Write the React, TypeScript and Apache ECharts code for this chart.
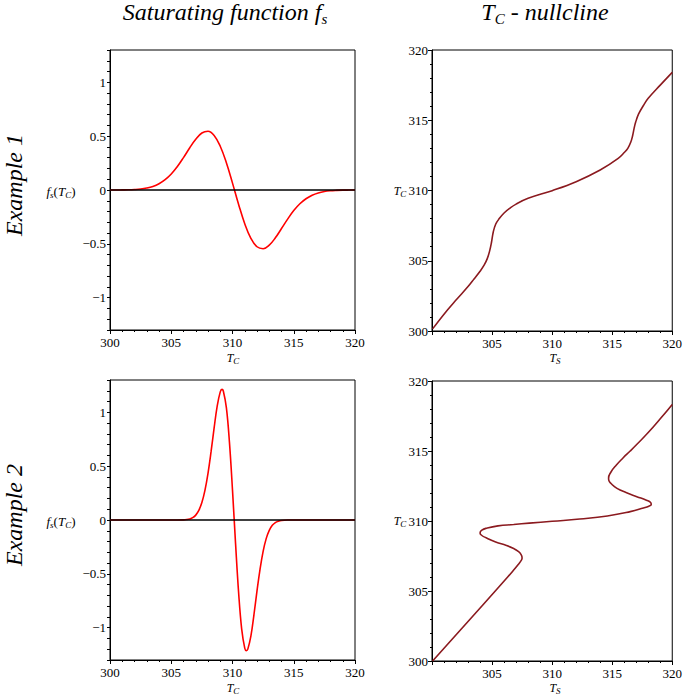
import React, { useEffect, useRef } from "react";
import * as echarts from "echarts";

// ---------- data ----------
// Example 1: saturating function f_s(T_C)
const fs1Tc = [300, 300.5, 301, 301.5, 302, 302.5, 303, 303.5, 304, 304.5, 305, 305.5, 306, 306.5, 307, 307.5, 308, 308.5, 309, 309.5, 310, 310.5, 311, 311.5, 312, 312.5, 313, 313.5, 314, 314.5, 315, 315.5, 316, 316.5, 317, 317.5, 318, 318.5, 319, 319.5, 320];
const fs1Val = [0, 0, 0.001, 0.002, 0.0045, 0.009, 0.018, 0.033, 0.058, 0.096, 0.149, 0.218, 0.301, 0.39, 0.471, 0.529, 0.545, 0.506, 0.406, 0.253, 0.064, -0.134, -0.313, -0.449, -0.527, -0.545, -0.512, -0.444, -0.358, -0.27, -0.191, -0.128, -0.081, -0.048, -0.027, -0.014, -0.007, -0.0035, -0.0015, -0.0006, 0];

// Example 2: saturating function f_s(T_C)
const fs2Tc = [300, 302, 304, 305, 306, 306.25, 306.5, 306.75, 307, 307.25, 307.5, 307.75, 308, 308.25, 308.5, 308.75, 309, 309.14, 309.25, 309.5, 309.75, 310, 310.25, 310.5, 310.75, 311, 311.13, 311.25, 311.5, 311.75, 312, 312.25, 312.5, 312.75, 313, 313.25, 313.5, 313.75, 314, 314.5, 315, 316, 318, 320];
const fs2Val = [0, 0, 0, 0, 0.0016, 0.004, 0.0097, 0.0216, 0.0454, 0.0888, 0.162, 0.275, 0.434, 0.634, 0.855, 1.058, 1.19, 1.213, 1.198, 1.043, 0.723, 0.277, -0.219, -0.675, -1.013, -1.189, -1.213, -1.199, -1.079, -0.88, -0.658, -0.456, -0.291, -0.173, -0.096, -0.049, -0.024, -0.011, -0.0045, -0.0006, 0, 0, 0, 0];

// Example 1: T_C nullcline (T_S, T_C)
const nc1Ts = [300.05, 301, 302, 303, 303.5, 304.0, 304.35, 304.6, 304.8, 304.95, 305.1, 305.3, 305.6, 306, 306.5, 307, 308, 310, 312, 314, 315.5, 316.0, 316.3, 316.55, 316.7, 316.82, 316.95, 317.2, 317.6, 318, 319, 320];
const nc1Tc = [300.15, 301.2, 302.2, 303.16, 303.7, 304.25, 304.7, 305.15, 305.7, 306.3, 307.05, 307.6, 308.0, 308.4, 308.75, 309.03, 309.44, 309.99, 310.63, 311.46, 312.29, 312.7, 313.0, 313.45, 313.9, 314.4, 314.85, 315.45, 316.05, 316.56, 317.5, 318.41];

// Example 2: T_C nullcline (T_S, T_C)
const nc2Ts = [300.05, 302.14, 304.23, 306.3, 306.8, 307.18, 307.4, 307.5, 307.42, 307.15, 306.75, 306.2, 305.3, 304.5, 304.1, 304.0, 304.15, 304.6, 305.5, 306.8, 308.1, 310.0, 312.3, 314.6, 316.5, 317.6, 318.05, 318.25, 318.2, 317.85, 317.05, 316.2, 315.4, 314.9, 314.72, 314.7, 314.9, 315.35, 315.9, 316.5, 317.08, 317.98, 319.0, 320];
const nc2Tc = [300.0, 302.0, 304.0, 306.0, 306.5, 306.9, 307.15, 307.35, 307.6, 307.85, 308.05, 308.25, 308.5, 308.8, 309.0, 309.15, 309.35, 309.5, 309.65, 309.75, 309.85, 309.98, 310.14, 310.36, 310.67, 310.93, 311.06, 311.18, 311.32, 311.48, 311.74, 312.02, 312.33, 312.68, 312.9, 313.05, 313.5, 314.0, 314.5, 315.0, 315.5, 316.3, 317.3, 318.33];

const zeroLineX = [300, 320];
const zeroLineY = [0, 0];

const titles = ["Saturating function f", "s"];
const rowLabels = ["Example 1", "Example 2"];

// ---------- helpers ----------
const zip = (a: number[], b: number[]) => a.map((v, i) => [v, b[i]]);
const SERIF = "'Liberation Serif', 'Times New Roman', Times, serif";

const fmtSigned = (v: number) => {
  const r = Math.round(v * 10) / 10;
  if (Math.abs(r * 2 - Math.round(r * 2)) > 1e-6) return "";
  if (r < 0) return "\u2212" + String(-r);
  return String(Math.abs(r));
};

const xAxisCfg = (gridIndex: number, hide300: boolean) => ({
  type: "value",
  gridIndex,
  min: 300,
  max: 320,
  interval: 5,
  axisLine: { show: true, onZero: false, lineStyle: { color: "#000", width: 1 } },
  axisTick: { show: true, length: 4, lineStyle: { color: "#000" } },
  minorTick: { show: true, splitNumber: 5, length: 2, lineStyle: { color: "#000" } },
  splitLine: { show: false },
  minorSplitLine: { show: false },
  axisLabel: {
    fontFamily: SERIF,
    fontSize: 13,
    color: "#000",
    margin: 6,
    formatter: (v: number) => (hide300 && Math.abs(v - 300) < 1e-6 ? "" : String(v)),
  },
});

const yFsCfg = (gridIndex: number) => ({
  type: "value",
  gridIndex,
  min: -1.3,
  max: 1.3,
  interval: 0.1,
  axisLine: { show: true, onZero: false, lineStyle: { color: "#000", width: 1 } },
  axisTick: { show: true, length: 3, lineStyle: { color: "#000" } },
  splitLine: { show: false },
  axisLabel: {
    fontFamily: SERIF,
    fontSize: 13,
    color: "#000",
    margin: 4,
    formatter: fmtSigned,
  },
});

const yNcCfg = (gridIndex: number) => ({
  type: "value",
  gridIndex,
  min: 300,
  max: 320,
  interval: 5,
  axisLine: { show: true, onZero: false, lineStyle: { color: "#000", width: 1 } },
  axisTick: { show: true, length: 4, lineStyle: { color: "#000" } },
  minorTick: { show: true, splitNumber: 5, length: 2, lineStyle: { color: "#000" } },
  splitLine: { show: false },
  minorSplitLine: { show: false },
  axisLabel: { fontFamily: SERIF, fontSize: 13, color: "#000", margin: 4 },
});

const subRich = (size: number, subSize: number, lh: number) => ({
  a: { fontFamily: SERIF, fontStyle: "italic", fontSize: size, lineHeight: lh, color: "#000", verticalAlign: "middle" },
  n: { fontFamily: SERIF, fontSize: size, lineHeight: lh, color: "#000", verticalAlign: "middle" },
  s: { fontFamily: SERIF, fontStyle: "italic", fontSize: subSize, lineHeight: subSize, color: "#000", verticalAlign: "bottom" },
});

const label = (text: string, x: number, y: number, size: number, subSize: number, lh: number, rotation = 0) => ({
  type: "text",
  x,
  y,
  rotation,
  style: {
    text,
    x: 0,
    y: 0,
    align: "center",
    verticalAlign: "middle",
    rich: subRich(size, subSize, lh),
  },
  silent: true,
});

export default function App() {
  const ref = useRef<HTMLDivElement>(null);

  useEffect(() => {
    if (!ref.current) return;
    const chart = echarts.init(ref.current, undefined, { renderer: "svg" });

    const redLine = { color: "#ff0000", width: 1.6 };
    const ncLine = { color: "#8b1a1f", width: 1.6 };
    const blackLine = { color: "#000000", width: 1.6 };

    const option: any = {
      animation: false,
      backgroundColor: "#ffffff",
      textStyle: { fontFamily: SERIF },
      grid: [
        { left: 110, top: 50, width: 245, height: 280, show: true, borderColor: "#000", borderWidth: 1, backgroundColor: "transparent" },
        { left: 432, top: 50, width: 244, height: 281, show: true, borderColor: "#000", borderWidth: 1, backgroundColor: "transparent" },
        { left: 110, top: 380, width: 245, height: 280, show: true, borderColor: "#000", borderWidth: 1, backgroundColor: "transparent" },
        { left: 432, top: 381, width: 244, height: 280, show: true, borderColor: "#000", borderWidth: 1, backgroundColor: "transparent" },
      ],
      xAxis: [xAxisCfg(0, false), xAxisCfg(1, true), xAxisCfg(2, false), xAxisCfg(3, true)],
      yAxis: [yFsCfg(0), yNcCfg(1), yFsCfg(2), yNcCfg(3)],
      series: [
        { type: "line", xAxisIndex: 0, yAxisIndex: 0, data: zip(fs1Tc, fs1Val), showSymbol: false, smooth: 0.4, lineStyle: redLine, silent: true },
        { type: "line", xAxisIndex: 0, yAxisIndex: 0, data: zip(zeroLineX, zeroLineY), showSymbol: false, lineStyle: blackLine, silent: true },
        { type: "line", xAxisIndex: 1, yAxisIndex: 1, data: zip(nc1Ts, nc1Tc), showSymbol: false, smooth: 0.4, lineStyle: ncLine, silent: true },
        { type: "line", xAxisIndex: 2, yAxisIndex: 2, data: zip(fs2Tc, fs2Val), showSymbol: false, smooth: 0.4, lineStyle: redLine, silent: true },
        { type: "line", xAxisIndex: 2, yAxisIndex: 2, data: zip(zeroLineX, zeroLineY), showSymbol: false, lineStyle: blackLine, silent: true },
        { type: "line", xAxisIndex: 3, yAxisIndex: 3, data: zip(nc2Ts, nc2Tc), showSymbol: false, smooth: 0.5, lineStyle: ncLine, silent: true },
      ],
      graphic: [
        label(`{a|${titles[0]}}{s|${titles[1]}}`, 225, 12, 24, 15, 28),
        label(`{a|T}{s|C}{a| - nullcline}`, 545, 12, 24, 15, 28),
        label(`{a|${rowLabels[0]}}`, 14, 185, 24, 15, 24, Math.PI / 2),
        label(`{a|${rowLabels[1]}}`, 14, 515, 24, 15, 24, Math.PI / 2),
        label(`{a|f}{s|s}{n|(}{a|T}{s|C}{n|)}`, 61, 191, 13, 9, 16),
        label(`{a|f}{s|s}{n|(}{a|T}{s|C}{n|)}`, 61, 521, 13, 9, 16),
        label(`{a|T}{s|C}`, 233, 358, 12, 9, 15),
        label(`{a|T}{s|C}`, 233, 688, 12, 9, 15),
        label(`{a|T}{s|S}`, 555, 358, 12, 9, 15),
        label(`{a|T}{s|S}`, 555, 688, 12, 9, 15),
        label(`{a|T}{s|C}`, 400, 191, 12, 9, 15),
        label(`{a|T}{s|C}`, 400, 521, 12, 9, 15),
      ],
    };

    chart.setOption(option);
    return () => chart.dispose();
  }, []);

  return (
    <div
      ref={ref}
      style={{ position: "fixed", left: 0, top: 0, width: 685, height: 695, background: "#fff" }}
    />
  );
}
